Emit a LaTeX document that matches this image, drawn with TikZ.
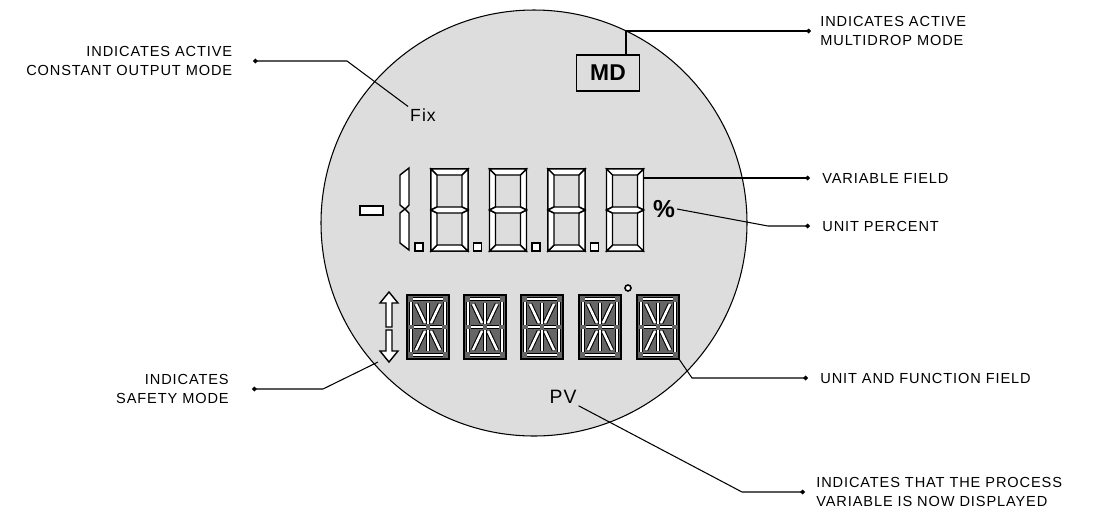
\documentclass[tikz,border=0pt]{standalone}
\usepackage{fontspec}
\setmainfont{Liberation Sans}
\newfontfamily\lblfont[LetterSpace=6]{Liberation Sans}
\usepackage{tikz}
\usetikzlibrary{positioning,arrows.meta}
\definecolor{lcdgray}{RGB}{221,221,221}

\begin{document}
\begin{tikzpicture}[x=0.2mm, y=-0.2mm,
	lbl/.style={font=\lblfont\fontsize{8.3}{11.3}\selectfont, inner sep=0pt},
	lead/.style={line width=0.6pt, -{Circle[length=2.6pt]}},
	segm/.style={draw, fill=white, line width=0.8pt},
	star/.style={draw=black, line width=0.6pt, double=white, double distance=0.5mm},
	sevenseg/.pic={
		\draw[line width=1pt] (0,0) rectangle (37,82);
		\draw[segm] (0,0)--(37,0)--(31,6)--(6,6)--cycle;
		\draw[segm] (0,82)--(37,82)--(31,76)--(6,76)--cycle;
		\draw[segm] (0,0)--(6,6)--(6,38)--(0,41)--cycle;
		\draw[segm] (37,0)--(31,6)--(31,38)--(37,41)--cycle;
		\draw[segm] (0,41)--(6,44)--(6,76)--(0,82)--cycle;
		\draw[segm] (37,41)--(31,44)--(31,76)--(37,82)--cycle;
		\draw[segm] (0,41)--(6,38)--(31,38)--(37,41)--(31,44)--(6,44)--cycle;
		\coordinate (-r) at (37,9);
	},
	starseg/.pic={
		\draw[line width=1.6pt, fill=black!60] (0,0) rectangle (42,64);
		\foreach \xa/\ya/\xb/\yb in {6/4/36/4, 6/60/36/60, 4/7/4/30, 4/34/4/57, 38/7/38/30, 38/34/38/57,
			7/32/19/32, 23/32/35/32, 21/8/21/29, 21/35/21/56, 9/9/18/28, 33/9/24/28, 9/55/18/36, 33/55/24/36}
			\draw[star] (\xa,\ya) -- (\xb,\yb);
		\coordinate (-se) at (42,64);
	}]
	\useasboundingbox (0,0) rectangle (1095,508);

	% display disc
	\draw[fill=lcdgray, line width=0.6pt] (534,223) circle[radius=213];

	% variable field
	\draw[segm] (360,206) rectangle (383,215);
	\draw[segm] (400,175)--(409,168)--(409,205)--(405,209)--(400,205)--cycle;
	\draw[segm] (400,213)--(405,209)--(409,213)--(409,250)--(400,243)--cycle;
	\foreach \n/\x in {1/431,2/489.5,3/548,4/606.5}
		\pic (d\n) at (\x,169) {sevenseg};
	\foreach \x in {415,473.5,532,590.5}
		\draw[segm] (\x,243) rectangle ++(8,8);

	% unit and function field
	\foreach \n/\x in {1/407,2/464,3/521,4/579,5/637}
		\pic (a\n) at (\x,295) {starseg};
	\draw[segm, line width=0.9pt] (628,288) circle[radius=3];
	\draw[segm] (389,292)--(398,303)--(392,303)--(392,327)--(386,327)--(386,303)--(380,303)--cycle;
	\draw[segm] (389,362)--(398,351)--(392,351)--(392,330)--(386,330)--(386,351)--(380,351)--cycle;

	\node[font=\lblfont\fontsize{10}{12}\selectfont, inner sep=1pt] (Fix) at (423,115) {Fix};
	\node[draw, fill=lcdgray, line width=0.8pt, minimum width=12.6mm, minimum height=7.2mm, inner sep=0pt,
		font=\bfseries\fontsize{13}{13}\selectfont] (MD) at (608,73) {MD};
	\node[font=\bfseries\fontsize{14}{14}\selectfont, inner sep=1pt] (pct) at (664,209) {\%};
	\node[font=\lblfont\fontsize{11}{12}\selectfont, inner sep=1pt] (PV) at (563,397) {PV};

	% leader points
	\coordinate (dFix) at (253,61);  \coordinate (bFix) at (347,61);
	\coordinate (dMD) at (811,31);   \coordinate (bMD) at (626,31);
	\coordinate (dVar) at (810,178);
	\coordinate (dPct) at (810,226); \coordinate (bPct) at (768,226);
	\coordinate (dUnit) at (808,378); \coordinate (bUnit) at (692,378);
	\coordinate (dSafe) at (252,389); \coordinate (bSafe) at (323,389);
	\coordinate (arrLow) at (378,362);
	\coordinate (dPV) at (805,492);  \coordinate (bPV) at (742,492);

	\node[lbl, align=right, left=4.1mm of dFix] (lFix) {INDICATES ACTIVE\\CONSTANT OUTPUT MODE};
	\node[lbl, align=left, right=1.8mm of dMD] (lMD) {INDICATES ACTIVE\\MULTIDROP MODE};
	\node[lbl, right=2.4mm of dVar] (lVar) {VARIABLE FIELD};
	\node[lbl, right=2.4mm of dPct] (lPct) {UNIT PERCENT};
	\node[lbl, right=2.4mm of dUnit] (lUnit) {UNIT AND FUNCTION FIELD};
	\node[lbl, align=right, left=4.6mm of dSafe] (lSafe) {INDICATES\\SAFETY MODE};
	\node[lbl, align=left, right=2.2mm of dPV] (lPV) {INDICATES THAT THE PROCESS\\VARIABLE IS NOW DISPLAYED};

	\draw[lead] (Fix.north west) -- (bFix) -- (dFix);
	\draw[lead] (MD.north -| bMD) -- (bMD) -- (dMD);
	\draw[lead] (d4-r) -- (dVar);
	\draw[lead] (pct.east) -- (bPct) -- (dPct);
	\draw[lead] (a5-se) -- (bUnit) -- (dUnit);
	\draw[lead] (arrLow) -- (bSafe) -- (dSafe);
	\draw[lead] (PV.south east) -- (bPV) -- (dPV);
\end{tikzpicture}
\end{document}
